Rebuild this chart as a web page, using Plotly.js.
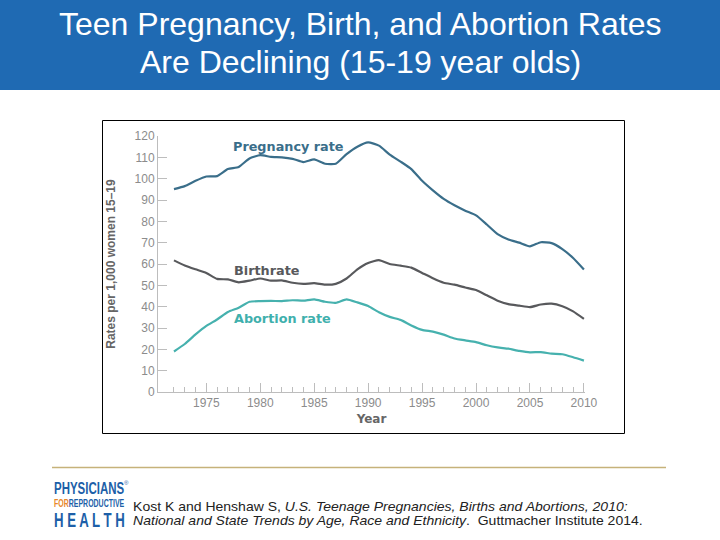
<!DOCTYPE html>
<html>
<head>
<meta charset="utf-8">
<script src="https://cdn.plot.ly/plotly-3.0.1.min.js"></script>
<style>
  html, body { margin: 0; padding: 0; background: #fff; }
  #chart { width: 720px; height: 540px; }
</style>
</head>
<body>
<div id="chart"></div>
<script>
// ---- data ----
const years = [1972,1973,1974,1975,1976,1977,1978,1979,1980,1981,1982,1983,1984,1985,1986,1987,1988,1989,1990,1991,1992,1993,1994,1995,1996,1997,1998,1999,2000,2001,2002,2003,2004,2005,2006,2007,2008,2009,2010];
const pregnancyRate = [95.1,96.5,99.0,101.0,101.2,104.5,105.5,109.5,111.0,110.2,110.0,109.3,107.8,109.0,107.0,107.0,111.5,115.0,117.0,115.5,111.3,108.0,104.5,99.0,94.5,90.5,87.5,85.0,82.8,78.5,74.0,71.5,70.0,68.3,70.2,69.8,67.0,62.8,57.4];
const birthRate = [61.7,59.3,57.5,55.8,53.0,52.8,51.4,52.2,53.2,52.2,52.3,51.2,50.7,51.0,50.3,50.7,53.2,57.5,60.5,61.8,60.0,59.2,58.3,55.8,53.3,51.2,50.3,49.0,47.8,45.3,42.8,41.2,40.5,39.8,41.0,41.4,40.2,37.8,34.3];
const abortionRate = [19.0,22.5,27.0,31.0,34.0,37.5,39.5,42.3,42.6,42.7,42.6,43.0,42.8,43.4,42.3,41.8,43.4,42.0,40.3,37.4,35.2,33.8,31.2,29.1,28.3,26.9,25.1,24.2,23.4,21.9,20.9,20.3,19.3,18.6,18.7,18.0,17.7,16.3,14.7];
const labelYears = [1975,1980,1985,1990,1995,2000,2005,2010];
const yTicks = [0,10,20,30,40,50,60,70,80,90,100,110,120];
const seriesNames = ['Pregnancy rate','Birthrate','Abortion rate'];

const titleLines = ['Teen Pregnancy, Birth, and Abortion Rates', 'Are Declining (15-19 year olds)'];
const yTitle = 'Rates per 1,000 women 15–19';
const xTitle = 'Year';
const citation1 = 'Kost K and Henshaw S, <i>U.S. Teenage Pregnancies, Births and Abortions, 2010:</i>';
const citation2 = '<i>National and State Trends by Age, Race and Ethnicity</i>.  Guttmacher Institute 2014.';

// ---- layout geometry ----
const L = 158, R = 585, T = 136, B = 392;
const W = R - L, H = B - T;
const px = x => (x - L) / W;
const py = y => (B - y) / H;

const colors = ['#3a6e8a', '#58595c', '#46b1ae'];

const traces = [pregnancyRate, birthRate, abortionRate].map((vals, i) => ({
  x: years, y: vals, type: 'scatter', mode: 'lines', name: seriesNames[i],
  line: {color: colors[i], width: 2.2, shape: 'spline', smoothing: 0.5},
  hoverinfo: 'skip'
}));

const labelFont = (c) => ({family: 'DejaVu Sans', size: 12.8, color: c, weight: 'bold'});
const logoBlue = '#1d5fa8';
const sans = 'Liberation Sans, Arial';

// annotations; 'sx' = horizontal stretch applied after drawing
const ann = [
  {x: 1977.4, y: 115.2, xref: 'x', yref: 'y', text: seriesNames[0], xanchor: 'left', font: labelFont(colors[0])},
  {x: 1977.5, y: 56.9, xref: 'x', yref: 'y', text: seriesNames[1], xanchor: 'left', font: labelFont(colors[1])},
  {x: 1977.5, y: 34.5, xref: 'x', yref: 'y', text: seriesNames[2], xanchor: 'left', font: labelFont('#3fb0ad')},
  // header title
  {x: px(360), y: py(24), xref: 'paper', yref: 'paper', text: titleLines[0], xanchor: 'center',
   font: {family: sans, size: 32, color: '#ffffff'}},
  {x: px(360), y: py(62), xref: 'paper', yref: 'paper', text: titleLines[1], xanchor: 'center',
   font: {family: sans, size: 32, color: '#ffffff'}},
  // logo
  {x: px(53), y: py(488.5), xref: 'paper', yref: 'paper', text: 'PHYSICIANS', xanchor: 'left',
   font: {family: sans, size: 17, color: logoBlue, weight: 'bold'}, sx: 0.675},
  {x: px(123), y: py(483), xref: 'paper', yref: 'paper', text: '®', xanchor: 'left',
   font: {family: sans, size: 6, color: logoBlue}},
  {x: px(53), y: py(502.5), xref: 'paper', yref: 'paper',
   text: '<span style="color:#e8872a">FOR</span>REPRODUCTIVE', xanchor: 'left',
   font: {family: sans, size: 11, color: logoBlue, weight: 'bold'}, sx: 0.635},
  {x: px(53), y: py(519.5), xref: 'paper', yref: 'paper', text: 'H E A L T H', xanchor: 'left',
   font: {family: sans, size: 21, color: logoBlue, weight: 'bold'}, sx: 0.63},
  // citation
  {x: px(132), y: py(507), xref: 'paper', yref: 'paper', text: citation1, xanchor: 'left',
   font: {family: sans, size: 12.5, color: '#222'}, sx: 1.12},
  {x: px(132), y: py(521), xref: 'paper', yref: 'paper', text: citation2, xanchor: 'left',
   font: {family: sans, size: 12.5, color: '#222'}, sx: 1.12}
];

const layout = {
  width: 720, height: 540,
  margin: {l: L, r: 720 - R, t: T, b: 540 - B},
  paper_bgcolor: '#fff', plot_bgcolor: '#fff',
  showlegend: false,
  xaxis: {
    range: [1970.52, 2010.1], showgrid: false, zeroline: false,
    showline: true, linecolor: '#bdbdbd', linewidth: 1,
    tickmode: 'array', tickvals: labelYears, ticktext: labelYears.map(String),
    ticks: 'inside', ticklen: 9, tickcolor: '#bdbdbd', tickwidth: 1,
    minor: {tickmode: 'array', tickvals: years, ticks: 'inside', ticklen: 5, tickcolor: '#bdbdbd', tickwidth: 1},
    tickfont: {family: sans, size: 12, color: '#8c8c8c'},
    title: {text: xTitle, standoff: 5, font: {family: 'DejaVu Sans', size: 12, color: '#666', weight: 'bold'}},
    fixedrange: true
  },
  yaxis: {
    range: [0, 120], showgrid: false, zeroline: false,
    showline: true, linecolor: '#bdbdbd', linewidth: 1,
    tickmode: 'array', tickvals: yTicks,
    ticks: 'inside', ticklen: 9, tickcolor: '#bdbdbd', tickwidth: 1,
    tickfont: {family: sans, size: 12, color: '#8c8c8c'},
    title: {text: yTitle, standoff: 16, font: {family: sans, size: 12, color: '#666', weight: 'bold'}},
    fixedrange: true
  },
  shapes: [
    {type: 'rect', xref: 'paper', yref: 'paper', x0: px(-5), x1: px(725), y0: py(90), y1: py(-5),
     fillcolor: '#1f6ab3', line: {width: 0}, layer: 'below'},
    {type: 'rect', xref: 'paper', yref: 'paper', x0: px(102.5), x1: px(624.5), y0: py(433.5), y1: py(120.5),
     fillcolor: 'rgba(0,0,0,0)', line: {color: '#000', width: 1}, layer: 'below'},
    {type: 'line', xref: 'paper', yref: 'paper', x0: px(52), x1: px(666), y0: py(467.5), y1: py(467.5),
     line: {color: '#c6b27a', width: 1.5}}
  ],
  annotations: ann.map(a => {
    const o = Object.assign({showarrow: false, yanchor: 'middle', borderpad: 0}, a);
    delete o.sx;
    return o;
  })
};

Plotly.newPlot('chart', traces, layout, {staticPlot: true, displayModeBar: false}).then(gd => {
  // horizontal stretch of some texts (condensed logo, wide-spaced citation)
  ann.forEach((a, i) => {
    if (!a.sx) return;
    const t = gd.querySelector('.annotation[data-index="' + i + '"] text');
    if (!t) return;
    const bb = t.getBBox();
    const x0 = bb.x;
    const prev = t.getAttribute('transform') || '';
    t.setAttribute('transform', prev + ' translate(' + (x0 * (1 - a.sx)) + ',0) scale(' + a.sx + ',1)');
  });
});
</script>
</body>
</html>
